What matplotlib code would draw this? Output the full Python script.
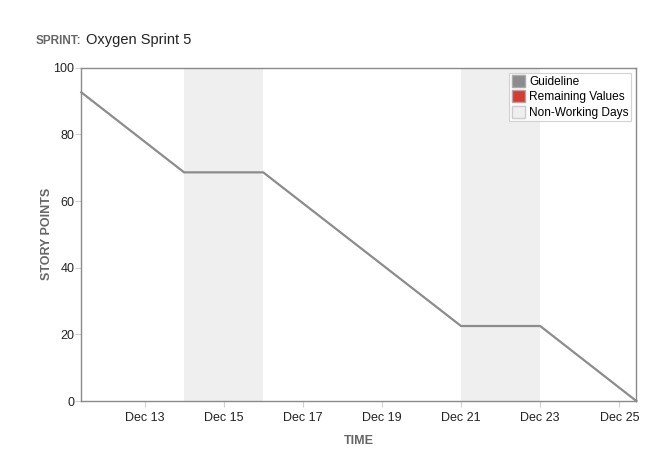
import datetime as dt
import matplotlib
matplotlib.use('Agg')
import matplotlib.pyplot as plt
import matplotlib.dates as mdates
from matplotlib.patches import Patch

plt.rcParams['font.family'] = ['Liberation Sans', 'DejaVu Sans']

# guideline points (time, story points)
guide_times = ['2015-12-11 09:40', '2015-12-14 00:00', '2015-12-16 00:00',
               '2015-12-21 00:00', '2015-12-23 00:00', '2015-12-25 10:20']
guide_points = [92.6, 68.6, 68.6, 22.5, 22.5, 0]

# non-working periods
non_working = [('2015-12-14', '2015-12-16'), ('2015-12-21', '2015-12-23')]

tick_days = ['2015-12-13', '2015-12-15', '2015-12-17', '2015-12-19',
             '2015-12-21', '2015-12-23', '2015-12-25']

sprint_name = 'Oxygen Sprint 5'

t = [dt.datetime.strptime(s, '%Y-%m-%d %H:%M') for s in guide_times]
ticks = [dt.datetime.strptime(s, '%Y-%m-%d') for s in tick_days]

fig = plt.figure(figsize=(6.65, 4.71), dpi=100)
ax = fig.add_axes([0.1223, 0.1486, 0.8346, 0.7077])

for a, b in non_working:
    ax.axvspan(dt.datetime.strptime(a, '%Y-%m-%d'), dt.datetime.strptime(b, '%Y-%m-%d'),
               color='#efefef', lw=0, zorder=0)

ax.plot(t, guide_points, color='#8c8c8c', lw=1.6, zorder=2, clip_on=False)

ax.set_xlim(t[0], t[-1])
ax.set_ylim(0, 100)
ax.set_yticks([0, 20, 40, 60, 80, 100])
ax.set_xticks(ticks)
ax.xaxis.set_major_formatter(mdates.DateFormatter('%b %d'))

for s in ax.spines.values():
    s.set_color('#8a8a8a')
    s.set_linewidth(1.0)
ax.tick_params(axis='both', colors='#d0d0d0', labelcolor='#222222', labelsize=9, length=4, width=0.8)
ax.tick_params(axis='x', pad=4)
ax.tick_params(axis='y', pad=1)

ax.set_xlabel('TIME', fontsize=9, fontweight='bold', color='#666666', labelpad=8)
ax.set_ylabel('STORY POINTS', fontsize=9, fontweight='bold', color='#666666', labelpad=0)

fig.text(0.053, 0.906, 'SPRINT:', fontsize=8.5, fontweight='bold', color='#666666', va='baseline')
fig.text(0.129, 0.906, sprint_name, fontsize=10.5, color='#222222', va='baseline')

handles = [Patch(facecolor='#8c8c8c', edgecolor='#aaaaaa', label='Guideline'),
           Patch(facecolor='#d63b34', edgecolor='#aaaaaa', label='Remaining Values'),
           Patch(facecolor='#efefef', edgecolor='#cccccc', label='Non-Working Days')]
leg = ax.legend(handles=handles, loc='upper right', bbox_to_anchor=(0.99, 0.985),
                prop={'size': 8.6}, frameon=True, fancybox=False, borderpad=0.2,
                handlelength=1.15, handleheight=1.15, handletextpad=0.3,
                labelspacing=0.2, borderaxespad=0)
leg.get_frame().set_edgecolor('#c8c8c8')
leg.get_frame().set_linewidth(0.8)

fig.savefig('out.png', dpi=100)
